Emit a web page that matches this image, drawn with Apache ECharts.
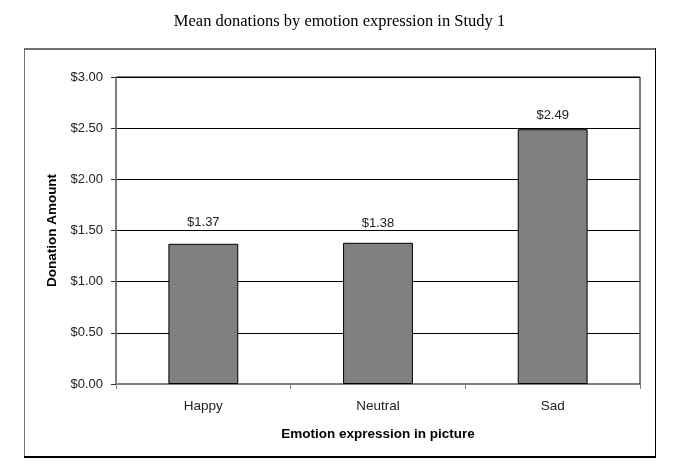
<!DOCTYPE html>
<html>
<head>
<meta charset="utf-8">
<style>
  html, body { margin: 0; padding: 0; background: #fff; }
  #chart { width: 679px; height: 472px; }
</style>
<script src="https://cdn.jsdelivr.net/npm/echarts@6/dist/echarts.min.js"></script>
</head>
<body>
<div id="chart"></div>
<script>
const categories = ["Happy", "Neutral", "Sad"];
const donations = [1.37, 1.38, 2.49];
const yTicks = [0, 0.5, 1.0, 1.5, 2.0, 2.5, 3.0];
// gap between bar top and its value label (Excel nudged the first two up)
const labelGaps = [15, 13, 7];

const chart = echarts.init(document.getElementById("chart"), null, { renderer: "canvas" });

const money = (v) => "$" + Number(v).toFixed(2);

const option = {
  animation: false,
  backgroundColor: "#fff",
  title: {
    text: "Mean donations by emotion expression in Study 1",
    left: "center",
    top: 8,
    textStyle: {
      fontFamily: "Liberation Serif",
      fontSize: 16.5,
      fontWeight: "normal",
      color: "#000",
    },
  },
  // outer chart frame (Excel style with shadowed edges)
  graphic: [
    { type: "line", shape: { x1: 24, y1: 49, x2: 655, y2: 49 }, style: { stroke: "#707070", lineWidth: 2 } },
    { type: "line", shape: { x1: 24.5, y1: 48, x2: 24.5, y2: 457 }, style: { stroke: "#707070", lineWidth: 1 } },
    { type: "line", shape: { x1: 655.5, y1: 48, x2: 655.5, y2: 458 }, style: { stroke: "#000", lineWidth: 1 } },
    { type: "line", shape: { x1: 24, y1: 457, x2: 656, y2: 457 }, style: { stroke: "#000", lineWidth: 2 } },
  ],
  grid: {
    left: 116,
    right: 39,
    top: 77,
    bottom: 88,
    show: true,
    borderColor: "#000",
    borderWidth: 1,
  },
  xAxis: {
    type: "category",
    data: categories,
    name: "Emotion expression in picture",
    nameLocation: "middle",
    nameGap: 43,
    nameTextStyle: {
      fontFamily: "Liberation Sans",
      fontSize: 13.5,
      fontWeight: "bold",
      color: "#000",
    },
    axisLine: { show: true, lineStyle: { color: "#808080", width: 1 } },
    axisTick: { show: true, length: 5, lineStyle: { color: "#808080" } },
    axisLabel: {
      fontFamily: "Liberation Sans",
      fontSize: 13.5,
      color: "#222",
      margin: 15,
    },
  },
  yAxis: {
    type: "value",
    min: 0,
    max: 3,
    interval: 0.5,
    name: "Donation Amount",
    nameLocation: "middle",
    nameGap: 56,
    nameTextStyle: {
      fontFamily: "Liberation Sans",
      fontSize: 13.5,
      fontWeight: "bold",
      color: "#000",
    },
    axisLine: { show: true, lineStyle: { color: "#808080", width: 1 } },
    axisTick: { show: true, length: 5, lineStyle: { color: "#333" } },
    axisLabel: {
      fontFamily: "Liberation Sans",
      fontSize: 13,
      color: "#222",
      margin: 13,
      formatter: (v) => (yTicks.includes(v) ? money(v) : ""),
    },
    splitLine: { show: true, lineStyle: { color: "#000", width: 1 } },
  },
  series: [
    {
      type: "bar",
      data: donations.map((v, i) => ({ value: v, label: { distance: labelGaps[i] } })),
      barWidth: "40%",
      itemStyle: {
        color: "#808080",
        borderColor: "#000",
        borderWidth: 1,
      },
      label: {
        show: true,
        position: "top",
        distance: 9,
        fontFamily: "Liberation Sans",
        fontSize: 13,
        color: "#222",
        formatter: (p) => money(p.value),
      },
    },
  ],
};

chart.setOption(option);
</script>
</body>
</html>
